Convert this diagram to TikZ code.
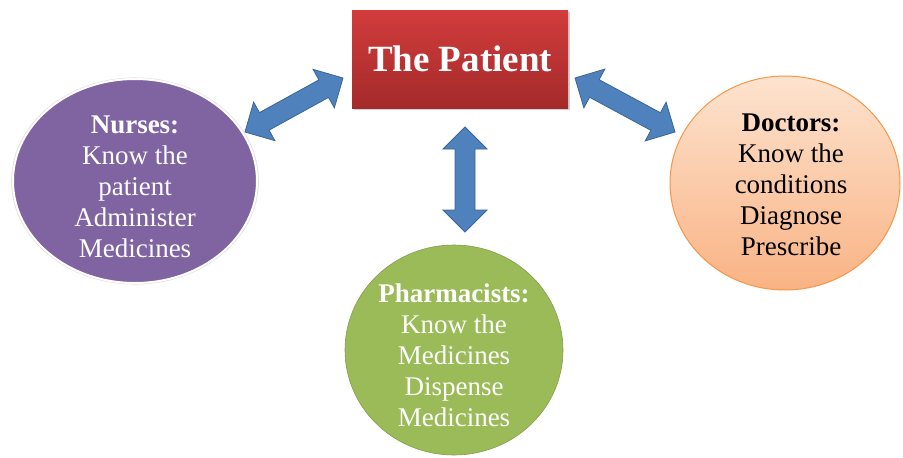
\documentclass[tikz,border=0pt]{standalone}
\usepackage{fontspec}
\setmainfont{Liberation Serif}
\usetikzlibrary{shapes.geometric,calc,shadows}
\definecolor{arrowfill}{HTML}{4F81BD}
\definecolor{arrowdraw}{HTML}{3A6698}
\definecolor{nursefill}{HTML}{8064A2}
\definecolor{pharmfill}{HTML}{9BBB59}
\definecolor{docline}{HTML}{F79646}
\definecolor{doctop}{HTML}{FDE3CF}
\definecolor{docbot}{HTML}{F9B384}
\definecolor{redtop}{HTML}{D23C3C}
\definecolor{redbot}{HTML}{A42A2A}
\newcommand\blockarrow[2]{%
  \filldraw[fill=arrowfill,draw=arrowdraw,line width=0.8pt,line join=miter]
    (#1)
    -- ($($(#1)!22pt!(#2)$)!22pt!90:(#2)$)
    -- ($($(#1)!22pt!(#2)$)!10pt!90:(#2)$)
    -- ($($(#2)!22pt!(#1)$)!10pt!-90:(#1)$)
    -- ($($(#2)!22pt!(#1)$)!22pt!-90:(#1)$)
    -- (#2)
    -- ($($(#2)!22pt!(#1)$)!22pt!90:(#1)$)
    -- ($($(#2)!22pt!(#1)$)!10pt!90:(#1)$)
    -- ($($(#1)!22pt!(#2)$)!10pt!-90:(#2)$)
    -- ($($(#1)!22pt!(#2)$)!22pt!-90:(#2)$)
    -- cycle;}
\tikzset{
  blob/.style={ellipse,inner sep=0pt},
  circtext/.style={align=center,font=\fontsize{27}{31}\selectfont,inner sep=0pt},
}
\begin{document}
\begin{tikzpicture}[x=1pt,y=-1pt]
\useasboundingbox[fill=white] (0,0) rectangle (903,458);
% Patient box
\node[draw=none,top color=redtop,bottom color=redbot,minimum width=216pt,minimum height=98pt,
  drop shadow={shadow xshift=1.5pt,shadow yshift=-1.5pt,opacity=0.35},
  font=\bfseries\fontsize{37}{40}\selectfont,text=white] (patient) at (460,59) {The Patient};
% Nurses
\node[blob,fill=nursefill,draw=white,line width=2pt,minimum width=244pt,minimum height=204pt,
  drop shadow={shadow xshift=0pt,shadow yshift=0pt,opacity=0.25,shadow scale=1.015}] (nurses) at (135,181) {};
\node[circtext,text=white] (nursesT) at (135,187) {\textbf{Nurses:}\\Know the\\patient\\Administer\\Medicines};
% Doctors
\node[blob,top color=doctop,bottom color=docbot,draw=docline,line width=1pt,minimum width=230pt,minimum height=214pt] (doctors) at (785,183) {};
\node[circtext,text=black] (doctorsT) at (791,185) {\textbf{Doctors:}\\Know the\\conditions\\Diagnose\\Prescribe};
% Pharmacists
\node[blob,fill=pharmfill,draw=pharmfill!85!black,line width=0.6pt,minimum width=218pt,minimum height=210pt] (pharm) at (454,350) {};
\node[circtext,text=white] (pharmT) at (454,355) {\textbf{Pharmacists:}\\Know the\\Medicines\\Dispense\\Medicines};
% arrow end points
\coordinate (aL1) at (245,132);
\coordinate (aL2) at (343,78);
\coordinate (aR1) at (575,78);
\coordinate (aR2) at (675,132);
\coordinate (aV1) at (465,127);
\coordinate (aV2) at (465,232);
\blockarrow{aL1}{aL2}
\blockarrow{aR1}{aR2}
\blockarrow{aV1}{aV2}
\end{tikzpicture}
\end{document}
